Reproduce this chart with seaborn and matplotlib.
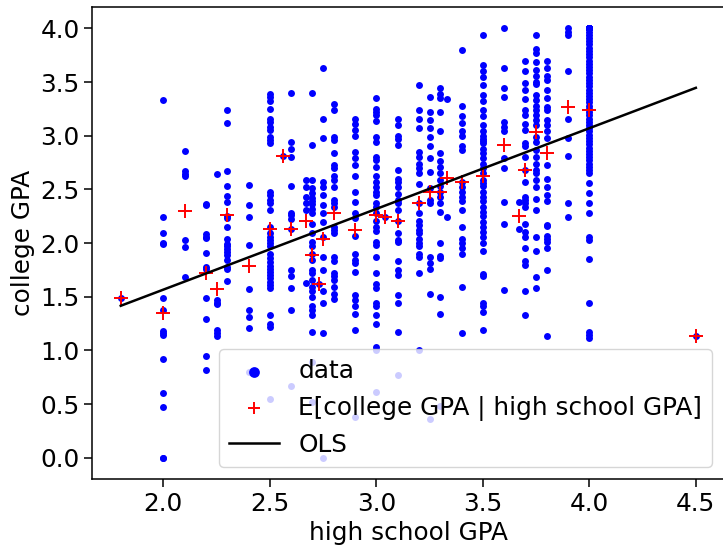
import numpy as np
import pandas as pd
import matplotlib
matplotlib.use("Agg")
import matplotlib.pyplot as plt
import seaborn as sns

# ---- data: college GPA values observed at each high-school GPA level ----
cg_180 = [1.49]
cg_200 = [3.33, 2.24, 2.09, 2.00, 1.99, 1.49, 1.38, 1.18, 1.16, 1.14, 0.92, 0.60, 0.47, 0.00, 0.00]
cg_210 = [2.86, 2.67, 2.64, 2.62, 2.03, 1.96, 1.68]
cg_220 = [2.36, 2.35, 2.08, 2.06, 2.05, 1.91, 1.78, 1.76, 1.49, 1.29, 0.95, 0.82]
cg_225 = [2.64, 1.47, 1.44, 1.43, 1.19, 1.16, 1.13]
cg_230 = [3.24, 3.12, 2.67, 2.53, 2.44, 2.38, 2.25, 2.23, 2.15, 2.04, 1.99, 1.97, 1.94, 1.92,
          1.89, 1.84, 1.78, 1.76, 1.65]
cg_240 = [2.54, 2.35, 2.24, 1.98, 1.57, 1.38, 1.31, 1.21, 0.80]
cg_250 = [3.39, 3.36, 3.32, 3.25, 3.16, 3.13, 3.08, 3.05, 2.99, 2.96, 2.93, 2.48, 2.45, 2.40,
          2.37, 2.31, 2.15, 2.09, 2.06, 2.03, 2.00, 1.97, 1.90, 1.86, 1.82, 1.79, 1.76, 1.73,
          1.70, 1.67, 1.64, 1.61, 1.58, 1.33, 1.25, 1.22, 0.55]
cg_256 = [2.81]
cg_260 = [3.40, 2.94, 2.88, 2.80, 2.53, 2.28, 2.26, 2.22, 2.13, 1.75, 1.69, 1.58, 1.38, 0.67]
cg_267 = [2.59, 2.52, 2.43, 2.37, 2.31, 1.63]
cg_270 = [3.40, 2.91, 2.59, 2.51, 2.47, 2.42, 2.39, 2.36, 2.32, 2.28, 2.18, 2.09, 2.01, 1.97,
          1.90, 1.84, 1.75, 1.72, 1.66, 1.59, 1.55, 1.50, 1.41, 1.38, 1.33, 1.17, 0.89, 0.52]
cg_273 = [1.62]
cg_275 = [3.63, 3.16, 2.98, 2.57, 2.52, 2.45, 2.35, 2.28, 2.20, 2.06, 1.87, 1.75, 1.55, 1.44,
          1.16, 0.00]
cg_280 = [3.30, 3.24, 2.99, 2.96, 2.84, 2.73, 2.70, 2.62, 2.59, 2.52, 2.40, 2.37, 2.34, 2.15,
          2.12, 2.09, 1.87, 1.83, 1.72, 1.69, 1.66, 1.59, 1.53, 1.48]
cg_290 = [3.16, 3.11, 3.05, 3.00, 2.85, 2.79, 2.73, 2.62, 2.48, 2.38, 2.28, 2.23, 2.07, 1.90,
          1.84, 1.81, 1.73, 1.52, 1.47, 1.41, 1.34, 1.19, 0.38]
cg_300 = [3.35, 3.25, 3.22, 3.19, 3.14, 2.99, 2.94, 2.80, 2.77, 2.71, 2.62, 2.57, 2.52, 2.48,
          2.45, 2.37, 2.34, 2.28, 2.21, 2.15, 2.11, 2.01, 1.98, 1.87, 1.72, 1.62, 1.58, 1.44,
          1.41, 1.33, 1.25, 1.03, 1.00, 0.61]
cg_304 = [2.24]
cg_310 = [3.16, 3.10, 3.00, 2.97, 2.91, 2.68, 2.60, 2.57, 2.52, 2.46, 2.40, 2.37, 2.31, 2.21,
          2.09, 2.03, 2.01, 1.83, 1.75, 1.70, 1.52, 1.44, 1.17, 0.77]
cg_320 = [3.47, 3.24, 3.16, 3.07, 2.85, 2.80, 2.74, 2.70, 2.65, 2.55, 2.37, 2.28, 2.21, 2.17,
          2.12, 2.09, 2.04, 2.00, 1.97, 1.90, 1.87, 1.72, 1.00]
cg_325 = [3.36, 3.22, 3.15, 3.07, 2.99, 2.90, 2.79, 2.66, 2.51, 2.40, 2.37, 1.87, 1.81, 1.76,
          1.53, 0.36]
cg_330 = [3.44, 3.39, 3.35, 3.22, 3.04, 2.84, 2.76, 2.71, 2.65, 2.59, 2.53, 2.48, 2.43, 2.37,
          2.29, 2.00, 1.88, 1.86, 1.50, 1.34, 0.48]
cg_333 = [3.34, 2.24]
cg_340 = [3.80, 3.28, 3.18, 3.12, 3.04, 3.00, 2.90, 2.87, 2.57, 2.52, 2.48, 2.43, 2.39, 2.31,
          2.15, 2.04, 2.00, 1.95, 1.90, 1.59, 1.16]
cg_350 = [3.94, 3.66, 3.60, 3.55, 3.47, 3.38, 3.32, 3.24, 3.18, 3.10, 3.04, 3.00, 2.97, 2.95,
          2.93, 2.88, 2.84, 2.79, 2.74, 2.70, 2.65, 2.59, 2.56, 2.53, 2.48, 2.43, 2.39, 2.34,
          2.29, 2.25, 2.20, 2.15, 2.10, 2.06, 2.00, 1.93, 1.71, 1.69, 1.44, 1.41, 1.36, 1.19]
cg_360 = [4.00, 3.63, 3.44, 3.36, 3.13, 3.08, 3.04, 2.79, 2.70, 2.38, 2.18, 1.56]
cg_367 = [2.38, 2.13]
cg_370 = [3.70, 3.60, 3.49, 3.43, 3.34, 3.24, 3.19, 3.11, 3.05, 2.93, 2.90, 2.80, 2.68, 2.57,
          2.43, 2.40, 2.37, 2.34, 2.18, 2.10, 2.06, 1.95, 1.83, 1.80, 1.55, 1.33]
cg_375 = [3.94, 3.81, 3.77, 3.69, 3.61, 3.56, 3.50, 3.48, 3.38, 3.33, 3.28, 3.24, 3.19, 3.15,
          3.10, 2.99, 2.94, 2.87, 2.80, 2.74, 2.68, 2.65, 2.59, 2.52, 2.41, 2.31, 2.06, 1.93,
          1.68, 1.58]
cg_380 = [3.70, 3.63, 3.56, 3.52, 3.43, 3.35, 3.27, 3.24, 3.15, 3.10, 3.04, 2.98, 2.73, 2.60,
          2.52, 2.45, 2.39, 2.17, 2.16, 2.07, 2.04, 2.01, 1.95, 1.75, 1.13]
cg_390 = [4.00, 3.97, 3.94, 3.60, 3.16, 2.98, 2.81, 2.37, 2.24]
cg_400 = [4.00, 4.00, 4.00, 4.00, 4.00, 4.00, 4.00, 4.00, 4.00, 4.00, 4.00, 4.00, 4.00, 4.00,
          4.00, 3.97, 3.94, 3.91, 3.88, 3.85, 3.82, 3.79, 3.76, 3.73, 3.70, 3.67, 3.64, 3.61,
          3.58, 3.55, 3.52, 3.49, 3.46, 3.43, 3.40, 3.37, 3.34, 3.31, 3.28, 3.25, 3.22, 3.19,
          3.16, 3.13, 3.10, 3.07, 3.04, 3.01, 2.98, 2.95, 2.92, 2.89, 2.86, 2.83, 2.80, 2.77,
          2.74, 2.71, 2.68, 2.65, 2.56, 2.47, 2.37, 2.28, 2.06, 2.03, 1.85, 1.44, 1.17, 1.14,
          1.12]
cg_450 = [1.13]

hs_levels = [1.80, 2.00, 2.10, 2.20, 2.25, 2.30, 2.40, 2.50, 2.56, 2.60, 2.67, 2.70, 2.73,
             2.75, 2.80, 2.90, 3.00, 3.04, 3.10, 3.20, 3.25, 3.30, 3.33, 3.40, 3.50, 3.60,
             3.67, 3.70, 3.75, 3.80, 3.90, 4.00, 4.50]
college_by_level = [cg_180, cg_200, cg_210, cg_220, cg_225, cg_230, cg_240, cg_250, cg_256,
                    cg_260, cg_267, cg_270, cg_273, cg_275, cg_280, cg_290, cg_300, cg_304,
                    cg_310, cg_320, cg_325, cg_330, cg_333, cg_340, cg_350, cg_360, cg_367,
                    cg_370, cg_375, cg_380, cg_390, cg_400, cg_450]

# conditional means E[college GPA | high school GPA]
cond_mean = [1.49, 1.345, 2.30, 1.72, 1.57, 2.26, 1.79, 2.13, 2.81, 2.13, 2.21, 1.89, 1.62,
             2.04, 2.28, 2.12, 2.26, 2.24, 2.21, 2.37, 2.48, 2.48, 2.61, 2.57, 2.62, 2.91,
             2.25, 2.68, 3.03, 2.84, 3.27, 3.24, 1.13]

# OLS fit coefficients
ols_intercept = 0.062
ols_slope = 0.752

# ---- build tables ----
df = pd.DataFrame({
    "hs": np.concatenate([[h] * len(v) for h, v in zip(hs_levels, college_by_level)]),
    "college": np.concatenate([np.array(v, dtype=float) for v in college_by_level]),
})
means = pd.DataFrame({"hs": hs_levels, "mean": cond_mean})
xs = np.array([df["hs"].min(), df["hs"].max()])
ols = pd.DataFrame({"hs": xs, "fit": ols_intercept + ols_slope * xs})

# ---- plot ----
plt.rcParams["font.family"] = ["DejaVu Sans"]
fs = 17.8
fig = plt.figure(figsize=(7.23, 5.48), dpi=100)
ax = fig.add_axes([92 / 723, 68.8 / 548, 632.6 / 723, 472.3 / 548])

sns.scatterplot(data=df, x="hs", y="college", ax=ax, color="#0000ff", s=25,
                linewidth=0, label="data", zorder=2)
sns.scatterplot(data=means, x="hs", y="mean", ax=ax, color="#ff0000", marker="+",
                s=110, linewidth=1.4, label="E[college GPA | high school GPA]", zorder=3)
sns.lineplot(data=ols, x="hs", y="fit", ax=ax, color="black", linewidth=1.8,
             label="OLS", zorder=4)

ax.set_xlim(1.665, 4.635)
ax.set_ylim(-0.2, 4.2)
ax.set_xticks([2.0, 2.5, 3.0, 3.5, 4.0, 4.5])
ax.set_yticks([0.0, 0.5, 1.0, 1.5, 2.0, 2.5, 3.0, 3.5, 4.0])
ax.set_xlabel("high school GPA", fontsize=fs)
ax.set_ylabel("college GPA", fontsize=fs)
ax.tick_params(labelsize=fs, length=5.5, width=1.1)
for sp in ax.spines.values():
    sp.set_linewidth(1.1)

leg = ax.legend(loc="lower right", fontsize=fs, framealpha=0.8)
hs_handles = leg.legend_handles
hs_handles[0].set_sizes([60])
hs_handles[1].set_sizes([75])

fig.savefig("out.png", dpi=100)
